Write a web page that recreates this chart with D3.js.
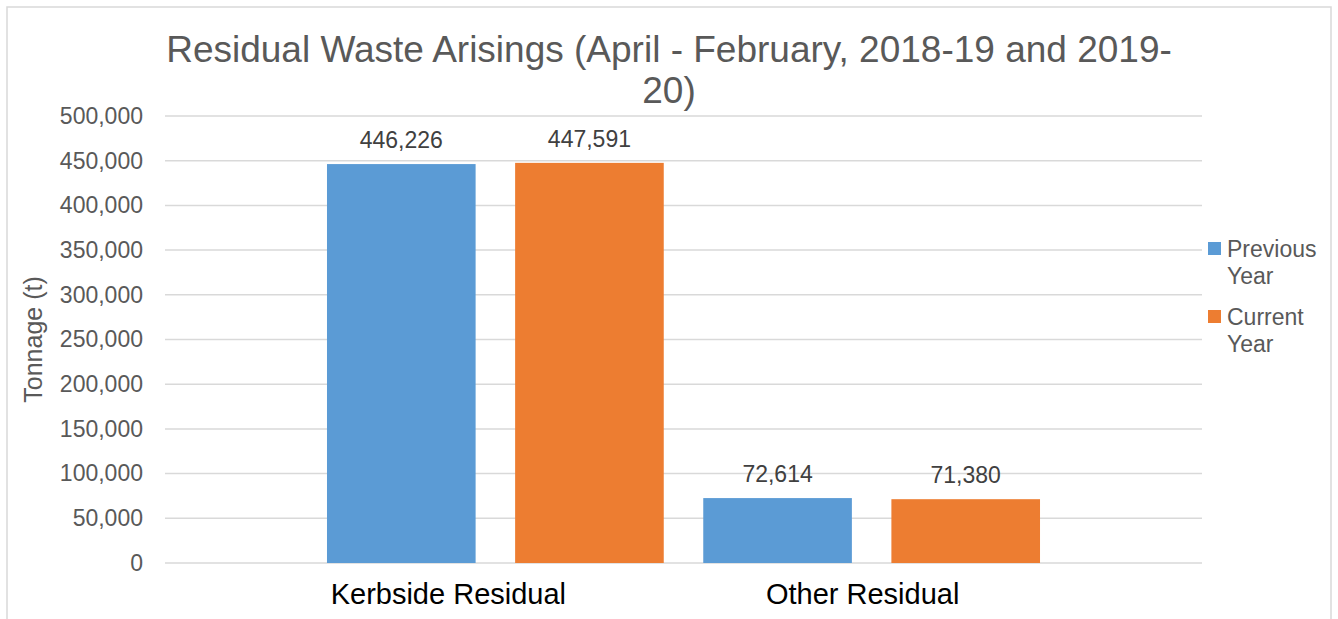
<!DOCTYPE html>
<html>
<head>
<meta charset="utf-8">
<script src="https://cdn.jsdelivr.net/npm/d3@7"></script>
<style>
  body { margin: 0; background: #fff; }
  text { font-family: "Liberation Sans", Arial, sans-serif; }
</style>
</head>
<body>
<div id="chart"></div>
<script>
// Chart data
const categories = ["Kerbside Residual", "Other Residual"];
const seriesNames = ["Previous Year", "Current Year"];
const previousYear = [446226, 72614];
const currentYear = [447591, 71380];
const yTicks = [0, 50000, 100000, 150000, 200000, 250000, 300000, 350000, 400000, 450000, 500000];
const colors = ["#5B9BD5", "#ED7D31"];

const W = 1338, H = 619;
const plot = {left: 165, right: 1202, top: 116, bottom: 563};

const svg = d3.select("#chart")
    .append("svg")
    .attr("width", W)
    .attr("height", H);

// chart border
svg.append("rect")
    .attr("x", 7)
    .attr("y", 7)
    .attr("width", 1324)
    .attr("height", 640)
    .attr("fill", "#fff")
    .attr("stroke", "#d9d9d9")
    .attr("stroke-width", 1.5);

// Scales
const yScale = d3.scaleLinear().domain([0, 500000]).range([plot.bottom, plot.top]);
const x0 = d3.scaleBand()
    .domain(categories)
    .range([plot.left, plot.right])
    .paddingInner(0)
    .paddingOuter(0.378);
const x1 = d3.scaleBand()
    .domain(seriesNames)
    .range([0, x0.bandwidth()])
    .paddingInner(0.21)
    .paddingOuter(0.105);

// Gridlines
svg.append("g")
    .selectAll("line")
    .data(yTicks)
    .join("line")
    .attr("x1", plot.left)
    .attr("x2", plot.right)
    .attr("y1", d => yScale(d))
    .attr("y2", d => yScale(d))
    .attr("stroke", "#d9d9d9")
    .attr("stroke-width", 1.5);

// Y axis (labels only)
const yAxis = d3.axisLeft(yScale)
    .tickValues(yTicks)
    .tickFormat(d3.format(","))
    .tickSize(0)
    .tickPadding(22);

const yAxisG = svg.append("g")
    .attr("transform", `translate(${plot.left},0)`)
    .call(yAxis);
yAxisG.select(".domain").remove();
yAxisG.selectAll("text")
    .attr("fill", "#595959")
    .style("font-size", "23px")
    .style("font-family", "'Liberation Sans', Arial, sans-serif");

// Axis title
svg.append("text")
    .attr("transform", `translate(42,${(plot.top + plot.bottom) / 2}) rotate(-90)`)
    .attr("text-anchor", "middle")
    .attr("fill", "#595959")
    .style("font-size", "25px")
    .text("Tonnage (t)");

// Bars
const rows = [];
categories.forEach((c, i) => {
    rows.push({cat: c, series: seriesNames[0], value: previousYear[i], color: colors[0]});
    rows.push({cat: c, series: seriesNames[1], value: currentYear[i], color: colors[1]});
});

svg.append("g")
    .selectAll("rect")
    .data(rows)
    .join("rect")
    .attr("x", d => x0(d.cat) + x1(d.series))
    .attr("y", d => yScale(d.value))
    .attr("width", x1.bandwidth())
    .attr("height", d => yScale(0) - yScale(d.value))
    .attr("fill", d => d.color);

// Data labels
svg.append("g")
    .selectAll("text")
    .data(rows)
    .join("text")
    .attr("x", d => x0(d.cat) + x1(d.series) + x1.bandwidth() / 2)
    .attr("y", d => yScale(d.value) - 16)
    .attr("text-anchor", "middle")
    .attr("fill", "#404040")
    .style("font-size", "23px")
    .text(d => d3.format(",")(d.value));

// Category labels (they sit a bit left of the bar groups in the original)
const labelNudge = [-47, -9];
svg.append("g")
    .selectAll("text")
    .data(categories)
    .join("text")
    .attr("x", (d, i) => x0(d) + x0.bandwidth() / 2 + labelNudge[i])
    .attr("y", 604)
    .attr("text-anchor", "middle")
    .attr("fill", "#000")
    .style("font-size", "29px")
    .text(d => d);

// Title
const title = svg.append("text")
    .attr("text-anchor", "middle")
    .attr("fill", "#595959")
    .style("font-size", "37px");
title.append("tspan")
    .attr("x", 669)
    .attr("y", 62)
    .text("Residual Waste Arisings (April - February, 2018-19 and 2019-");
title.append("tspan")
    .attr("x", 669)
    .attr("y", 103)
    .text("20)");

// Legend
const legend = svg.append("g")
    .selectAll("g")
    .data(seriesNames)
    .join("g")
    .attr("transform", (d, i) => `translate(1208,${242 + i * 68})`);

legend.append("rect")
    .attr("width", 13)
    .attr("height", 13)
    .attr("fill", (d, i) => colors[i]);

const legendText = legend.append("text")
    .attr("fill", "#595959")
    .style("font-size", "23px");
legendText.append("tspan")
    .attr("x", 19)
    .attr("y", 15)
    .text(d => d.split(" ")[0]);
legendText.append("tspan")
    .attr("x", 19)
    .attr("y", 42)
    .text(d => d.split(" ")[1]);
</script>
</body>
</html>
